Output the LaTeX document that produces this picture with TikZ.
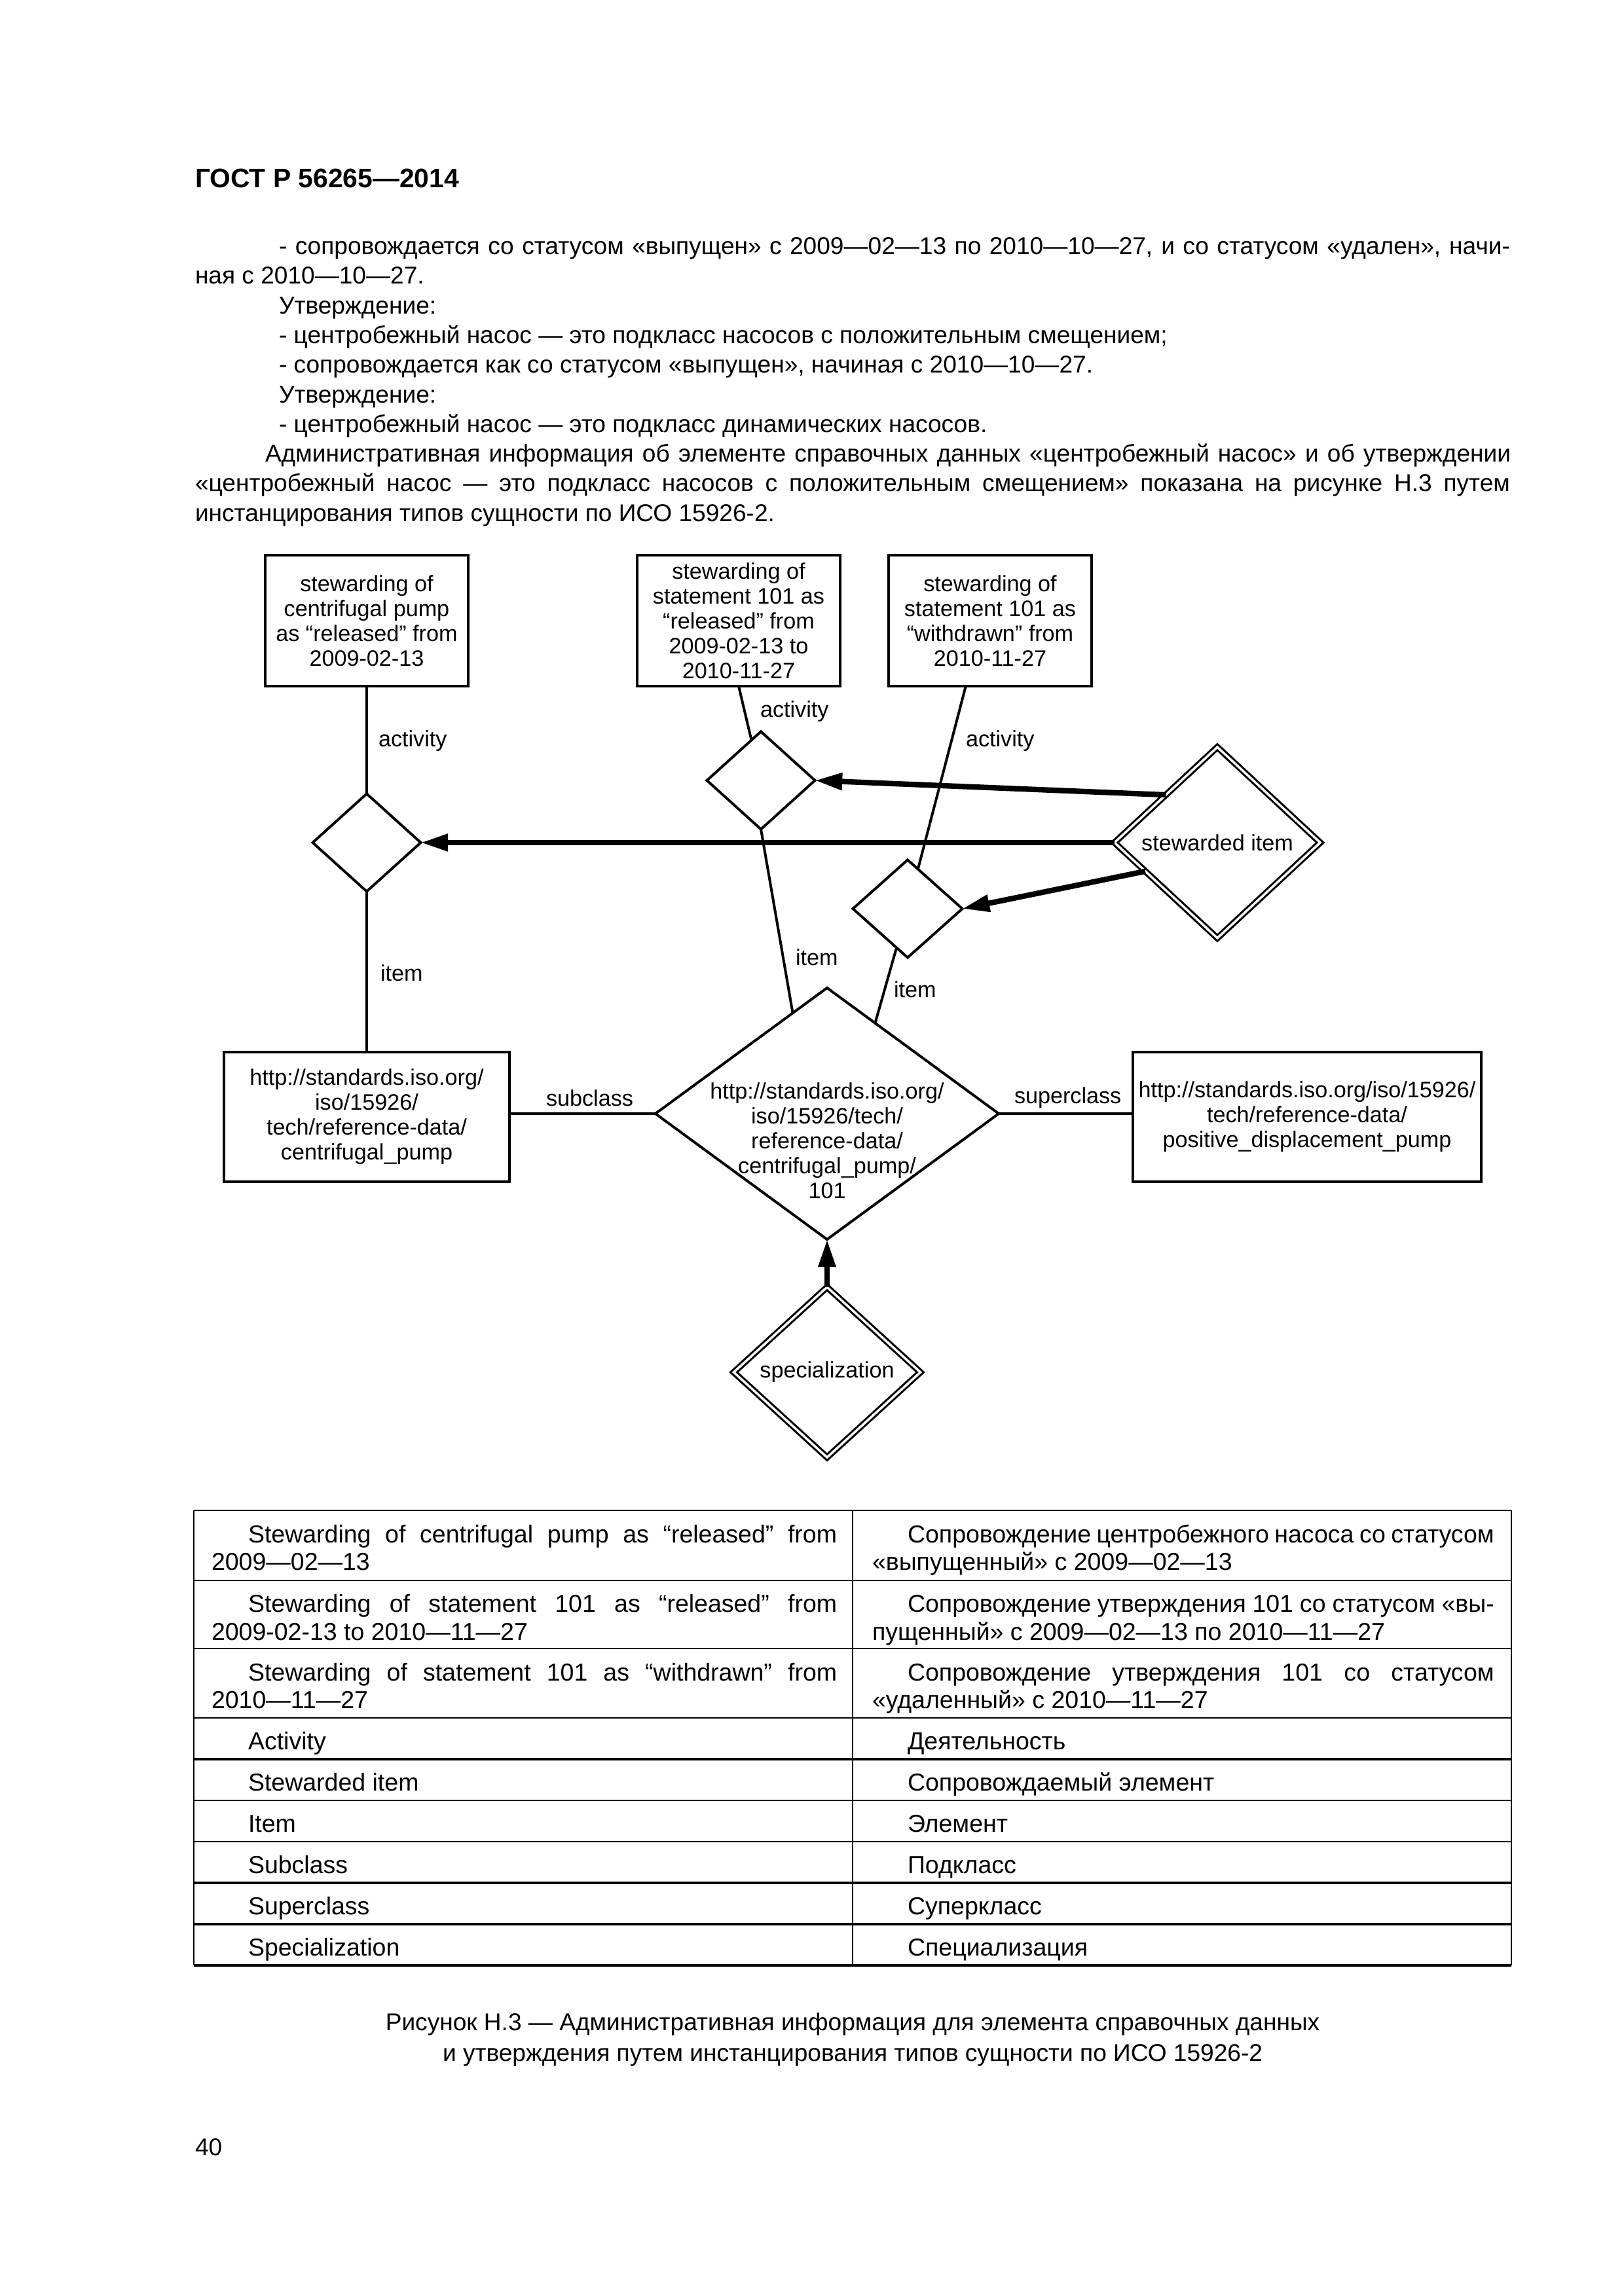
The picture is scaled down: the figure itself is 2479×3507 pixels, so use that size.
\documentclass[tikz,border=0pt]{standalone}
\usepackage{fontspec}
\setmainfont{Liberation Sans}
\usetikzlibrary{shapes.geometric,arrows.meta,calc}
\begin{document}
\begin{tikzpicture}[x=0.24bp,y=-0.24bp,
  every node/.style={inner sep=0pt, outer sep=0pt},
  dfont/.style={font=\fontsize{8.2bp}{9.1bp}\selectfont},
  bfont/.style={font=\fontsize{8.9bp}{10.9bp}\selectfont},
  tfont/.style={font=\fontsize{9bp}{10bp}\selectfont},
  box/.style={draw, line width=0.95bp, rectangle, minimum width=74.4bp, minimum height=48bp, align=center, dfont},
  rel/.style={draw, line width=0.95bp, diamond, minimum width=39.6bp, minimum height=35.8bp},
  dd/.style={draw, diamond, double, line width=0.75bp, double distance=0.85bp},
  conn/.style={line width=0.95bp},
  thickarrow/.style={line width=2bp, -{Triangle[length=10bp,width=6bp]}},
  lab/.style={dfont, anchor=west},
  bodyline/.style={bfont, anchor=base west},
  tline/.style={tfont, anchor=base west},
  tgrid/.style={line width=0.7bp},
  tgridb/.style={line width=1.1bp},
]
\fill[white] (0,0) rectangle (2479,3507);
\useasboundingbox (0,0) rectangle (2479,3507);

% header
\node[anchor=base west, font=\fontsize{9.8bp}{12bp}\selectfont\bfseries] (hdr) at (298,286) {ГОСТ Р 56265—2014};

% body text
\node[bodyline] (l1) at (426,388) {\makebox[451.2bp][s]{- сопровождается со статусом «выпущен» с 2009—02—13 по 2010—10—27, и со статусом «удален», начи-}};
\node[bodyline] (l2) at (298,433) {ная с 2010—10—27.};
\node[bodyline] (l3) at (426,479) {Утверждение:};
\node[bodyline] (l4) at (426,524) {- центробежный насос — это подкласс насосов с положительным смещением;};
\node[bodyline] (l5) at (426,569) {- сопровождается как со статусом «выпущен», начиная с 2010—10—27.};
\node[bodyline] (l6) at (426,615) {Утверждение:};
\node[bodyline] (l7) at (426,660) {- центробежный насос — это подкласс динамических насосов.};
\node[bodyline] (l8) at (405,705) {\makebox[456.5bp][s]{Административная информация об элементе справочных данных «центробежный насос» и об утверждении}};
\node[bodyline] (l9) at (298,750) {\makebox[481.9bp][s]{«центробежный насос — это подкласс насосов с положительным смещением» показана на рисунке Н.3 путем}};
\node[bodyline] (l10) at (298,796) {инстанцирования типов сущности по ИСО 15926-2.};

% diagram nodes
\node[box] (b1) at (560,948) {stewarding of\\centrifugal pump\\as “released” from\\2009-02-13};
\node[box] (b2) at (1128,948) {stewarding of\\statement 101 as\\“released” from\\2009-02-13 to\\2010-11-27};
\node[box] (b3) at (1512,948) {stewarding of\\statement 101 as\\“withdrawn” from\\2010-11-27};

\node[rel] (A) at (560,1287) {};
\node[rel] (B) at (1162,1192) {};
\node[rel, minimum width=40.1bp] (C) at (1386,1388) {};
\node[dd, minimum width=75.4bp, minimum height=70bp] (S) at (1859,1287) {};
\node[dfont] (Stxt) at (S) {stewarded item};

\node[draw, diamond, line width=0.95bp, minimum width=125.8bp, minimum height=92.2bp] (D) at (1263,1701) {};
\node[dfont, align=center] (Dtxt) at (1263,1742) {http://standards.iso.org/\\iso/15926/tech/\\reference-data/\\centrifugal\_pump/\\101};

\node[box, minimum width=104.6bp, minimum height=47.5bp] (b4) at (560,1706) {http://standards.iso.org/\\iso/15926/\\tech/reference-data/\\centrifugal\_pump};
\node[box, minimum width=127.7bp, minimum height=47.5bp] (b5) at (1996,1706) {http://standards.iso.org/iso/15926/\\tech/reference-data/\\positive\_displacement\_pump};

\node[dd, minimum width=68.4bp, minimum height=62.4bp] (sp) at (1263,2096) {};
\node[dfont] (sptxt) at (sp) {specialization};

% connectors
\draw[conn] (b1.south) -- (A.north);
\draw[conn] (A.south) -- (b4.north);
\draw[conn] (b2.south) -- (B);
\draw[conn] (B.south) -- ($(D.west)!0.8!(D.north)$);
\draw[conn] ($(b3.south west)!0.38!(b3.south east)$) -- (C);
\draw[conn] (C) -- ($(D.north)!0.28!(D.east)$);
\draw[conn] (D.west) -- (D.west -| b4.east);
\draw[conn] (D.east) -- (D.east -| b5.west);
\draw[thickarrow] (S.west) -- (A.east);
\draw[thickarrow] ($(S.west)!0.5!(S.north)$) -- (B.east);
\draw[thickarrow] ($(S.west)!0.3!(S.south)$) -- (C.east);
\draw[thickarrow] (sp.north) -- (D.south);

% connector labels
\node[lab] (la1) at (578,1132) {activity};
\node[lab] (la2) at (1161,1087) {activity};
\node[lab] (la3) at (1475,1132) {activity};
\node[lab] (li1) at (581,1486) {item};
\node[lab] (li2) at (1215,1462) {item};
\node[lab] (li3) at (1365,1511) {item};
\node[lab] (lsub) at (834,1677) {subclass};
\node[lab] (lsup) at (1549,1677) {superclass};

% table
\draw[tgrid] (296,2307) -- (2308,2307);
\draw[tgrid] (296,2414) -- (2308,2414);
\draw[tgrid] (296,2518) -- (2308,2518);
\draw[tgrid] (296,2624) -- (2308,2624);
\draw[tgridb] (296,2687) -- (2308,2687);
\draw[tgrid] (296,2750) -- (2308,2750);
\draw[tgrid] (296,2813) -- (2308,2813);
\draw[tgridb] (296,2876) -- (2308,2876);
\draw[tgridb] (296,2939) -- (2308,2939);
\draw[tgridb] (296,3002) -- (2308,3002);
\draw[tgrid] (296,2307) -- (296,3002);
\draw[tgrid] (1302,2307) -- (1302,3002);
\draw[tgrid] (2308,2307) -- (2308,3002);

\node[tline] at (379,2356) {\makebox[215.8bp][s]{Stewarding of centrifugal pump as “released” from}};
\node[tline] at (323,2398) {2009—02—13};
\node[tline] at (1386,2356) {\makebox[215bp][s]{Сопровождение центробежного насоса со статусом}};
\node[tline] at (1332,2398) {«выпущенный» с 2009—02—13};

\node[tline] at (379,2462) {\makebox[215.8bp][s]{Stewarding of statement 101 as “released” from}};
\node[tline] at (323,2505) {2009-02-13 to 2010—11—27};
\node[tline] at (1386,2462) {\makebox[215bp][s]{Сопровождение утверждения 101 со статусом «вы-}};
\node[tline] at (1332,2505) {пущенный» с 2009—02—13 по 2010—11—27};

\node[tline] at (379,2567) {\makebox[215.8bp][s]{Stewarding of statement 101 as “withdrawn” from}};
\node[tline] at (323,2609) {2010—11—27};
\node[tline] at (1386,2567) {\makebox[215bp][s]{Сопровождение утверждения 101 со статусом}};
\node[tline] at (1332,2609) {«удаленный» с 2010—11—27};

\node[tline] at (379,2672) {Activity};
\node[tline] at (1386,2672) {Деятельность};
\node[tline] at (379,2735) {Stewarded item};
\node[tline] at (1386,2735) {Сопровождаемый элемент};
\node[tline] at (379,2798) {Item};
\node[tline] at (1386,2798) {Элемент};
\node[tline] at (379,2861) {Subclass};
\node[tline] at (1386,2861) {Подкласс};
\node[tline] at (379,2924) {Superclass};
\node[tline] at (1386,2924) {Суперкласс};
\node[tline] at (379,2987) {Specialization};
\node[tline] at (1386,2987) {Специализация};

% caption
\node[bfont, anchor=base] (cap1) at (1302,3101) {Рисунок Н.3 — Административная информация для элемента справочных данных};
\node[bfont, anchor=base] (cap2) at (1302,3148) {и утверждения путем инстанцирования типов сущности по ИСО 15926-2};

% page number
\node[bodyline] (pg) at (298,3292) {40};
\end{tikzpicture}
\end{document}
